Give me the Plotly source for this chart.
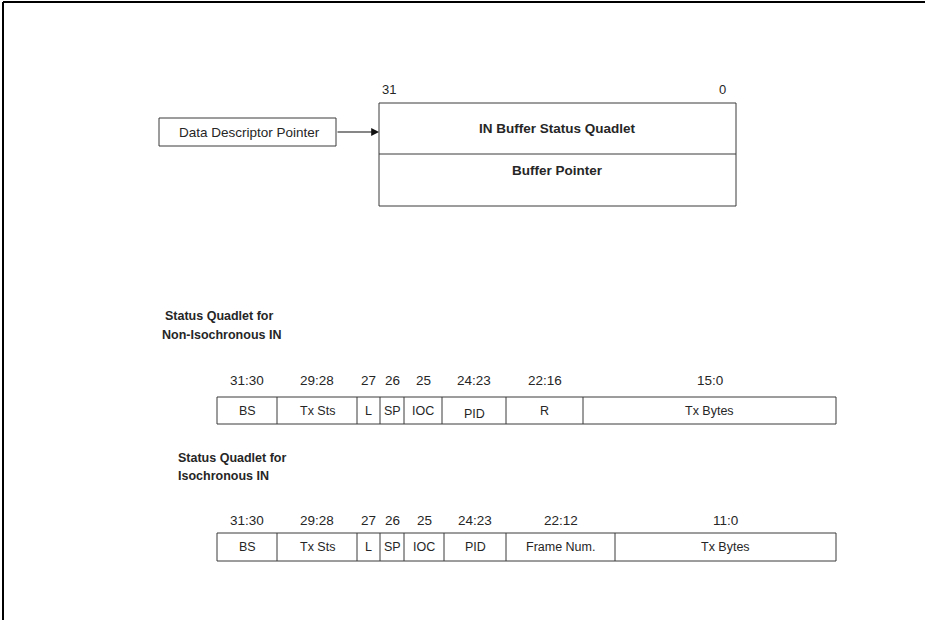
import plotly.graph_objects as go

# field layouts of the two status quadlets
non_iso_bits = ["31:30", "29:28", "27", "26", "25", "24:23", "22:16", "15:0"]
non_iso_fields = ["BS", "Tx Sts", "L", "SP", "IOC", "PID", "R", "Tx Bytes"]
iso_bits = ["31:30", "29:28", "27", "26", "25", "24:23", "22:12", "11:0"]
iso_fields = ["BS", "Tx Sts", "L", "SP", "IOC", "PID", "Frame Num.", "Tx Bytes"]

descriptor_rows = ["IN Buffer Status Quadlet", "Buffer Pointer"]
pointer_label = "Data Descriptor Pointer"

# drawing geometry (pixels)
non_iso_edges = [217, 277, 357, 380, 404, 442, 506, 583, 836]
iso_edges = [217, 277, 357, 380, 404, 444, 506, 615, 836]

W, H = 925, 620
LINE = "#3a3a3a"
TXT = "#262626"
FONT = "Liberation Sans, Arial, sans-serif"

fig = go.Figure()
shapes = []
ann = []


def text(x, y, s, size=12.5, bold=False, xanchor="center"):
    ann.append(dict(x=x, y=y, text=f"<b>{s}</b>" if bold else s, showarrow=False,
                    xanchor=xanchor, yanchor="middle",
                    font=dict(family=FONT, size=size, color=TXT)))


def rect(x0, y0, x1, y1, w=1):
    shapes.append(dict(type="rect", x0=x0, y0=y0, x1=x1, y1=y1,
                       line=dict(color=LINE, width=w)))


def line(x0, y0, x1, y1, w=1, color=LINE):
    shapes.append(dict(type="line", x0=x0, y0=y0, x1=x1, y1=y1,
                       line=dict(color=color, width=w)))


# page frame (top and left only)
line(3, 2, W, 2, 2, "#000000")
line(3, 2, 3, H, 2, "#000000")

# descriptor block
rect(379, 103, 736, 206)
line(379, 154, 736, 154)
text(557, 128, descriptor_rows[0], size=13.5, bold=True)
text(557, 170, descriptor_rows[1], size=13.5, bold=True)
text(389, 89, "31", size=13)
text(722, 89, "0", size=13)

rect(159, 118, 336, 146)
text(249, 132, pointer_label, size=13.5)
ann.append(dict(x=379, y=132, ax=336, ay=132, axref="x", ayref="y",
                showarrow=True, arrowhead=2, arrowsize=1.3, arrowwidth=1.2,
                arrowcolor="#111111", text=""))


def quadlet(edges, bits, fields, y_bits, y0, y1, pid_drop=0):
    rect(edges[0], y0, edges[-1], y1)
    for e in edges[1:-1]:
        line(e, y0, e, y1)
    for i, (b, f) in enumerate(zip(bits, fields)):
        cx = (edges[i] + edges[i + 1]) / 2
        text(cx, y_bits, b, size=13.5)
        dy = pid_drop if f == "PID" else 0
        text(cx, (y0 + y1) / 2 + dy, f)


text(163, 316, "Status Quadlet for", bold=True, xanchor="left")
text(160, 335, "Non-Isochronous IN", bold=True, xanchor="left")
quadlet(non_iso_edges, non_iso_bits, non_iso_fields, 380, 397, 424, pid_drop=3)

text(176, 458, "Status Quadlet for", bold=True, xanchor="left")
text(176, 476, "Isochronous IN", bold=True, xanchor="left")
quadlet(iso_edges, iso_bits, iso_fields, 520, 533, 561)

fig.update_layout(
    width=W, height=H,
    margin=dict(l=0, r=0, t=0, b=0),
    paper_bgcolor="white", plot_bgcolor="white",
    xaxis=dict(range=[0, W], visible=False, fixedrange=True),
    yaxis=dict(range=[H, 0], visible=False, fixedrange=True),
    shapes=shapes, annotations=ann, showlegend=False,
)

fig.write_html("out.html", config={"displayModeBar": False},
               post_script="document.body.style.margin='0';")
